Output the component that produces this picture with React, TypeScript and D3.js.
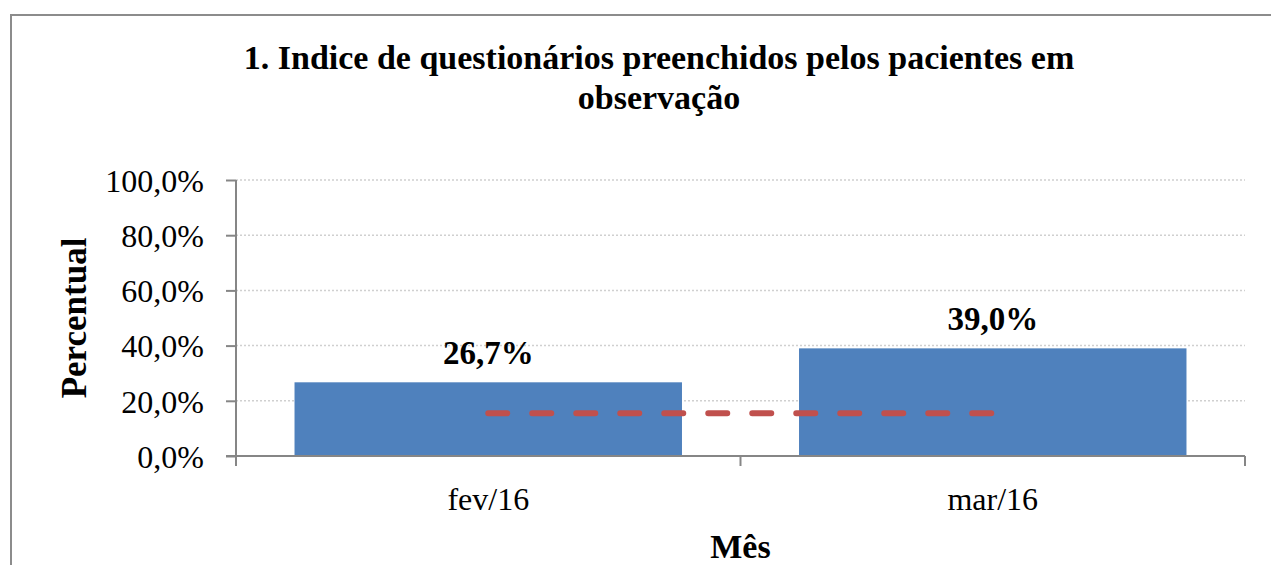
import * as d3 from 'd3';
import React, { useEffect, useRef } from 'react';

const months = ['fev/16', 'mar/16'];
const percentValues = [26.7, 39.0];
const goalValues = [15.5, 15.5];
const yTicks = [0, 20, 40, 60, 80, 100];

const W = 1271;
const H = 565;
const FONT = '"Liberation Serif", "Times New Roman", serif';

const fmt = (v: number) => v.toFixed(1).replace('.', ',') + '%';

const App = () => {
  const ref = useRef<SVGSVGElement>(null);

  useEffect(() => {
    const svg = d3.select(ref.current);
    svg.selectAll('*').remove();

    const left = 236;
    const right = 1245;
    const top = 180;
    const bottom = 456;

    // chart frame
    svg.append('path')
      .attr('d', `M11,${H + 5} L11,15 L${W + 5},15`)
      .attr('fill', 'none')
      .attr('stroke', '#8c8c8c')
      .attr('stroke-width', 2);

    svg.append('text')
      .attr('x', 659).attr('y', 69)
      .attr('text-anchor', 'middle')
      .style('font-family', FONT).style('font-weight', 'bold').style('font-size', '34px')
      .text('1. Indice de questionários preenchidos pelos pacientes em');
    svg.append('text')
      .attr('x', 659).attr('y', 109)
      .attr('text-anchor', 'middle')
      .style('font-family', FONT).style('font-weight', 'bold').style('font-size', '34px')
      .text('observação');

    const x = d3.scaleBand().domain(months).range([left, right]).paddingInner(0.232).paddingOuter(0.116);
    const y = d3.scaleLinear().domain([0, 100]).range([bottom, top]);

    // gridlines
    svg.append('g').selectAll('line')
      .data(yTicks.filter(t => t > 0))
      .enter().append('line')
      .attr('x1', left).attr('x2', right)
      .attr('y1', d => y(d)).attr('y2', d => y(d))
      .attr('stroke', '#d0d0d0')
      .attr('stroke-width', 1.5)
      .attr('stroke-dasharray', '2,2');

    // bars
    svg.append('g').selectAll('rect')
      .data(percentValues)
      .enter().append('rect')
      .attr('x', (d, i) => x(months[i])!)
      .attr('y', d => y(d))
      .attr('width', x.bandwidth())
      .attr('height', d => bottom - y(d))
      .attr('fill', '#4f81bd');

    // goal line
    const line = d3.line<number>()
      .x((d, i) => x(months[i])! + x.bandwidth() / 2)
      .y(d => y(d));
    svg.append('path')
      .datum(goalValues)
      .attr('d', line)
      .attr('fill', 'none')
      .attr('stroke', '#c0504d')
      .attr('stroke-width', 6)
      .attr('stroke-linecap', 'round')
      .attr('stroke-dasharray', '19,25');

    // data labels
    svg.append('g').selectAll('text')
      .data(percentValues)
      .enter().append('text')
      .attr('x', (d, i) => x(months[i])! + x.bandwidth() / 2)
      .attr('y', d => y(d) - 18)
      .attr('text-anchor', 'middle')
      .style('font-family', FONT).style('font-weight', 'bold').style('font-size', '33px')
      .text(d => fmt(d));

    // y axis
    const yAxis = svg.append('g')
      .attr('transform', `translate(${left},0)`)
      .call(d3.axisLeft(y).tickValues(yTicks).tickSize(10).tickPadding(22).tickFormat(d => fmt(+d)));
    yAxis.select('.domain').attr('stroke', '#868686').attr('stroke-width', 2).attr('d', `M0,${top}V${bottom}`);
    yAxis.selectAll('.tick line').attr('stroke', '#868686').attr('stroke-width', 2);
    yAxis.selectAll('.tick text')
      .attr('fill', '#000')
      .attr('dy', '0.35em')
      .style('font-family', FONT).style('font-size', '32px');

    // x axis
    const xb = svg.append('g').attr('transform', `translate(0,${bottom})`);
    xb.append('line')
      .attr('x1', left - 10).attr('x2', right)
      .attr('stroke', '#868686').attr('stroke-width', 2);
    xb.selectAll('line.tk')
      .data([left, (left + right) / 2, right])
      .enter().append('line')
      .attr('class', 'tk')
      .attr('x1', d => d).attr('x2', d => d)
      .attr('y1', 0).attr('y2', 10)
      .attr('stroke', '#868686').attr('stroke-width', 2);
    xb.selectAll('text')
      .data(months)
      .enter().append('text')
      .attr('x', d => x(d)! + x.bandwidth() / 2)
      .attr('y', 54)
      .attr('text-anchor', 'middle')
      .style('font-family', FONT).style('font-size', '32px')
      .text(d => d);

    svg.append('text')
      .attr('x', (left + right) / 2).attr('y', 558)
      .attr('text-anchor', 'middle')
      .style('font-family', FONT).style('font-weight', 'bold').style('font-size', '34px')
      .text('Mês');

    svg.append('text')
      .attr('transform', `translate(86,${(top + bottom) / 2}) rotate(-90)`)
      .attr('text-anchor', 'middle')
      .style('font-family', FONT).style('font-weight', 'bold').style('font-size', '35px')
      .text('Percentual');
  }, []);

  return (
    <svg ref={ref} width={W} height={H} style={{ position: 'absolute', left: 0, top: 0, background: '#fff' }} />
  );
};

export default App;
